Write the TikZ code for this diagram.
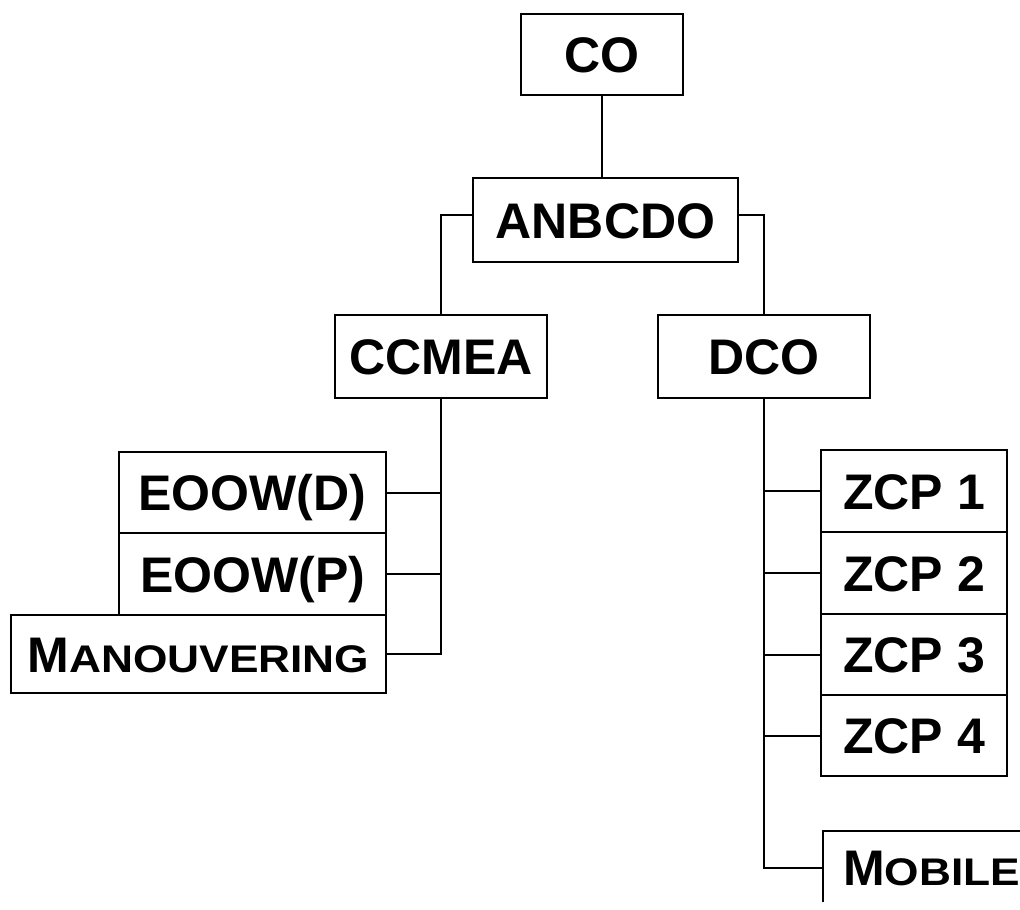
\documentclass[tikz,border=0pt]{standalone}
\usepackage{fontspec}
\usepackage{graphicx}
\setmainfont{Liberation Sans}
\newcommand\fsc[1]{\scalebox{1.15}[1]{\fontsize{38.5pt}{40pt}\selectfont #1}}
\begin{document}
\begin{tikzpicture}[x=1pt,y=-1pt,
  bx/.style={draw, line width=2pt, inner sep=0pt,
    font=\fontsize{50pt}{55pt}\selectfont\bfseries,
    text height=36pt, text depth=0pt},
  ln/.style={line width=2pt}]
\useasboundingbox (0,0) rectangle (1020,910);
\clip (0,0) rectangle (1020,901);
% nodes
\node[bx, minimum width=162pt, minimum height=81pt] (co) at (602,54.5) {CO};
\node[bx, minimum width=265pt, minimum height=84pt] (anb) at (605.5,220) {ANBCDO};
\node[bx, minimum width=212pt, minimum height=83pt] (ccm) at (441,356.5) {CCMEA};
\node[bx, minimum width=212pt, minimum height=83pt] (dco) at (764,356.5) {DCO};
\node[bx, minimum width=267pt, minimum height=81pt] (eod) at (252.5,492.5) {EOOW(D)};
\node[bx, minimum width=267pt, minimum height=82pt] (eop) at (252.5,574) {EOOW(P)};
\node[bx, minimum width=375pt, minimum height=78pt] (man) at (198.5,654) {M\fsc{ANOUVERING}};
\node[bx, minimum width=186pt, minimum height=82pt] (z1) at (914,491) {ZCP 1};
\node[bx, minimum width=186pt, minimum height=82pt] (z2) at (914,573) {ZCP 2};
\node[bx, minimum width=186pt, minimum height=81pt] (z3) at (914,654.5) {ZCP 3};
\node[bx, minimum width=186pt, minimum height=81pt] (z4) at (914,735.5) {ZCP 4};
\node[bx, anchor=west, minimum width=260pt, minimum height=73pt, inner xsep=20pt, align=left] (mob) at (822,867.5) {M\fsc{OBILE}\hspace*{60pt}};
% connectors
\draw[ln] (co.south) -- (co.south |- anb.north);
\draw[ln] ([yshift=5pt]anb.west) -| (ccm.north);
\draw[ln] ([yshift=5pt]anb.east) -| (dco.north);
\draw[ln] (ccm.south) |- (man.east);
\draw[ln] (eod.east) -- (eod.east -| ccm.south);
\draw[ln] (eop.east) -- (eop.east -| ccm.south);
\draw[ln] (dco.south) |- (mob.west);
\draw[ln] (z1.west) -- (z1.west -| dco.south);
\draw[ln] (z2.west) -- (z2.west -| dco.south);
\draw[ln] (z3.west) -- (z3.west -| dco.south);
\draw[ln] (z4.west) -- (z4.west -| dco.south);
\end{tikzpicture}
\end{document}
